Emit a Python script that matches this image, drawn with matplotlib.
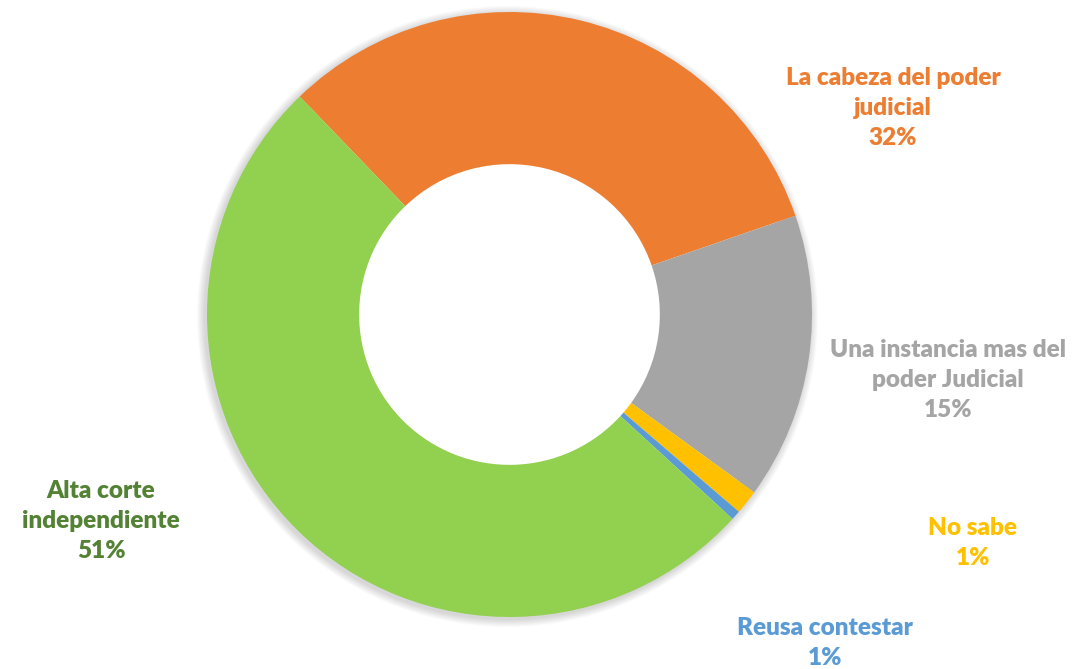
import matplotlib.pyplot as plt
from matplotlib.patches import Wedge

# Encuesta: percepcion del organo judicial
categorias = ["La cabeza del poder\njudicial", "Una instancia mas del\npoder Judicial",
              "No sabe", "Reusa contestar", "Alta corte\nindependiente"]
valores = [31.9, 15.3, 1.3, 0.5, 51.0]
etiquetas_pct = ["32%", "15%", "1%", "1%", "51%"]
colores = ["#ED7D31", "#A5A5A5", "#FFC000", "#5B9BD5", "#92D050"]
colores_texto = ["#ED7D31", "#A5A5A5", "#FFC000", "#5B9BD5", "#548235"]

W, H = 1092, 669
fig = plt.figure(figsize=(W / 100, H / 100), dpi=100)
ax = fig.add_axes([0, 0, 1, 1])

cx, cy, r = 509.5, H - 314.5, 302.5

# sombra suave alrededor del anillo
for i in range(8):
    ax.add_patch(Wedge((cx - 2, cy - 2), r + 8 - i, 0, 360, width=20,
                       color="#000000", alpha=0.018, lw=0, zorder=0))

ax.pie(valores, colors=colores, startangle=133.9, counterclock=False,
       center=(cx, cy), radius=r, frame=True,
       wedgeprops=dict(width=r * 0.503, edgecolor="none"))
ax.set_xlim(0, W)
ax.set_ylim(0, H)
ax.set_aspect("equal")
ax.axis("off")

# posiciones de etiquetas (centro del bloque de texto, px)
pos = [(893, 108), (948, 380), (973, 543), (825, 643), (101, 521)]
for cat, pct, col, (x, y) in zip(categorias, etiquetas_pct, colores_texto, pos):
    ax.text(x, H - y, cat + "\n" + pct, ha="center", va="center",
            color=col, fontsize=17.5, fontweight="heavy", family="Lato",
            linespacing=1.47)

fig.savefig("out.png", dpi=100)
